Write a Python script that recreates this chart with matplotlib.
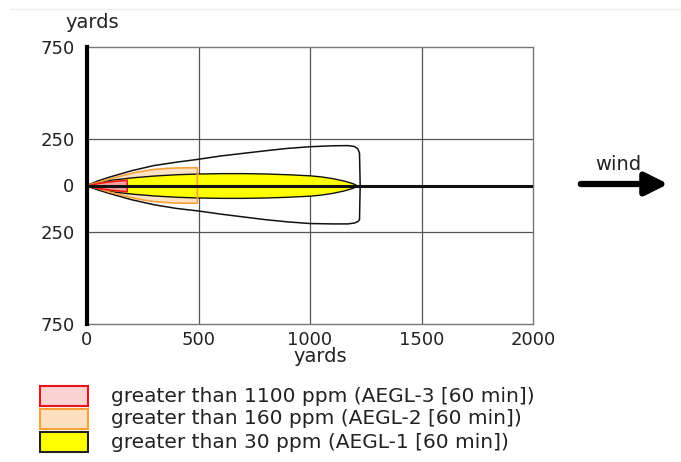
import matplotlib
matplotlib.use("Agg")
import matplotlib.pyplot as plt
from matplotlib.patches import Rectangle, FancyArrowPatch
from matplotlib.lines import Line2D

# threat zones (downwind yards, half-width yards)
aegl3_x = [0, 50, 100, 150, 178]
aegl3_w = [0, 14, 22, 28, 31]

aegl2_x = [0, 50, 100, 150, 200, 250, 300, 350, 400, 450, 495]
aegl2_w = [0, 17, 35, 51, 66, 78, 87, 92, 95, 96, 96]

aegl1_x = [0, 25, 50, 100, 200, 300, 400, 500, 600, 700, 800, 900, 1000,
           1050, 1100, 1150, 1190, 1212]
aegl1_w = [0, 12, 20, 30, 44, 54, 61, 65, 67, 67, 65, 61, 55, 49, 40, 27, 13, 0]

# wind direction confidence lines
conf_x = [0, 50, 100, 200, 300, 400, 500, 600, 700, 800, 900, 1000, 1100,
          1170, 1200, 1215, 1222, 1225, 1222]
conf_top = [0, 25, 45, 80, 108, 126, 142, 160, 174, 188, 201, 210, 215,
            216, 211, 198, 175, 0, -185]
conf_bot_x = [1222, 1215, 1200, 1170, 1100, 1000, 900, 800, 700, 600, 500,
              400, 300, 200, 100, 50, 0]
conf_bot = [-185, -195, -203, -208, -208, -206, -197, -185, -170, -155, -138,
            -124, -104, -77, -43, -24, 0]

x_ticks = [0, 500, 1000, 1500, 2000]
y_ticks = [-750, -250, 0, 250, 750]
y_tick_labels = ["750", "250", "0", "250", "750"]

legend_labels = [
    "greater than 1100 ppm (AEGL-3 [60 min])",
    "greater than 160 ppm (AEGL-2 [60 min])",
    "greater than 30 ppm (AEGL-1 [60 min])",
]

W, H = 681, 462
fig = plt.figure(figsize=(W / 100, H / 100), dpi=100)
ax = fig.add_axes([87 / W, 1 - 324 / H, (533 - 87) / W, (324 - 47) / H])

txt = "#222222"

# zones
ax.fill_between(aegl2_x, [-w for w in aegl2_w], aegl2_w, facecolor="#fde3c4",
                edgecolor="none", zorder=2)
ax.fill_between(aegl1_x, [-w for w in aegl1_w], aegl1_w, facecolor="#ffff00",
                edgecolor="#111111", linewidth=1.0, zorder=3)
ax.fill_between(aegl2_x, [-w for w in aegl2_w], aegl2_w, facecolor="none",
                edgecolor="#f7a13a", linewidth=1.2, zorder=4)
ax.fill_between(aegl3_x, [-w for w in aegl3_w], aegl3_w, facecolor="#f8a0a0",
                edgecolor="#ee1a1a", linewidth=1.2, zorder=5)

ax.plot(conf_x + conf_bot_x, conf_top + conf_bot, color="#111111",
        linewidth=1.1, zorder=3)

# centerline
ax.plot([0, 2000], [0, 0], color="#111111", linewidth=2.2, zorder=6)

ax.set_xlim(0, 2000)
ax.set_ylim(-750, 750)
ax.set_xticks(x_ticks)
ax.set_yticks(y_ticks)
ax.set_yticklabels(y_tick_labels)
ax.tick_params(length=0, labelsize=13, colors=txt, pad=5)
ax.tick_params(axis="y", pad=9)

for v in [500, 1000, 1500]:
    ax.axvline(v, color="#555555", linewidth=0.9, zorder=1)
for v in [-250, 250]:
    ax.axhline(v, color="#555555", linewidth=0.9, zorder=1)

for s in ["top", "right", "bottom"]:
    ax.spines[s].set_color("#777777")
    ax.spines[s].set_linewidth(1.0)
ax.spines["left"].set_color("#000000")
ax.spines["left"].set_linewidth(3)
ax.spines["left"].set_zorder(7)

fig.text(92 / W, 1 - 23 / H, "yards", ha="center", va="center",
         fontsize=14, color=txt)
fig.text(320 / W, 1 - 357 / H, "yards", ha="center", va="center",
         fontsize=14, color=txt)

# wind arrow
fig.text(618 / W, 1 - 164 / H, "wind", ha="center", va="center",
         fontsize=14, color=txt)
arrow = FancyArrowPatch((578 / W, 1 - 184 / H), (671 / W, 1 - 184 / H),
                        transform=fig.transFigure, arrowstyle="-|>",
                        mutation_scale=34, linewidth=4.5, color="#000000",
                        joinstyle="round", capstyle="round")
fig.patches.append(arrow)

# faint screenshot rule at top
fig.add_artist(Line2D([10 / W, 1], [1 - 9 / H, 1 - 9 / H],
                      transform=fig.transFigure, color="#eeeeee", linewidth=1))

# legend
faces = ["#fbd3d3", "#fde0c0", "#ffff00"]
edges = ["#e8141c", "#f7a13a", "#222222"]
for i, lab in enumerate(legend_labels):
    yc = 396 + i * 23
    fig.patches.append(Rectangle((40 / W, 1 - (yc + 10) / H), 48 / W, 20 / H,
                                 transform=fig.transFigure, facecolor=faces[i],
                                 edgecolor=edges[i], linewidth=1.5))
    fig.text(111 / W, 1 - yc / H, lab, ha="left", va="center",
             fontsize=14.5, color=txt)

fig.savefig("out.png", dpi=100)
